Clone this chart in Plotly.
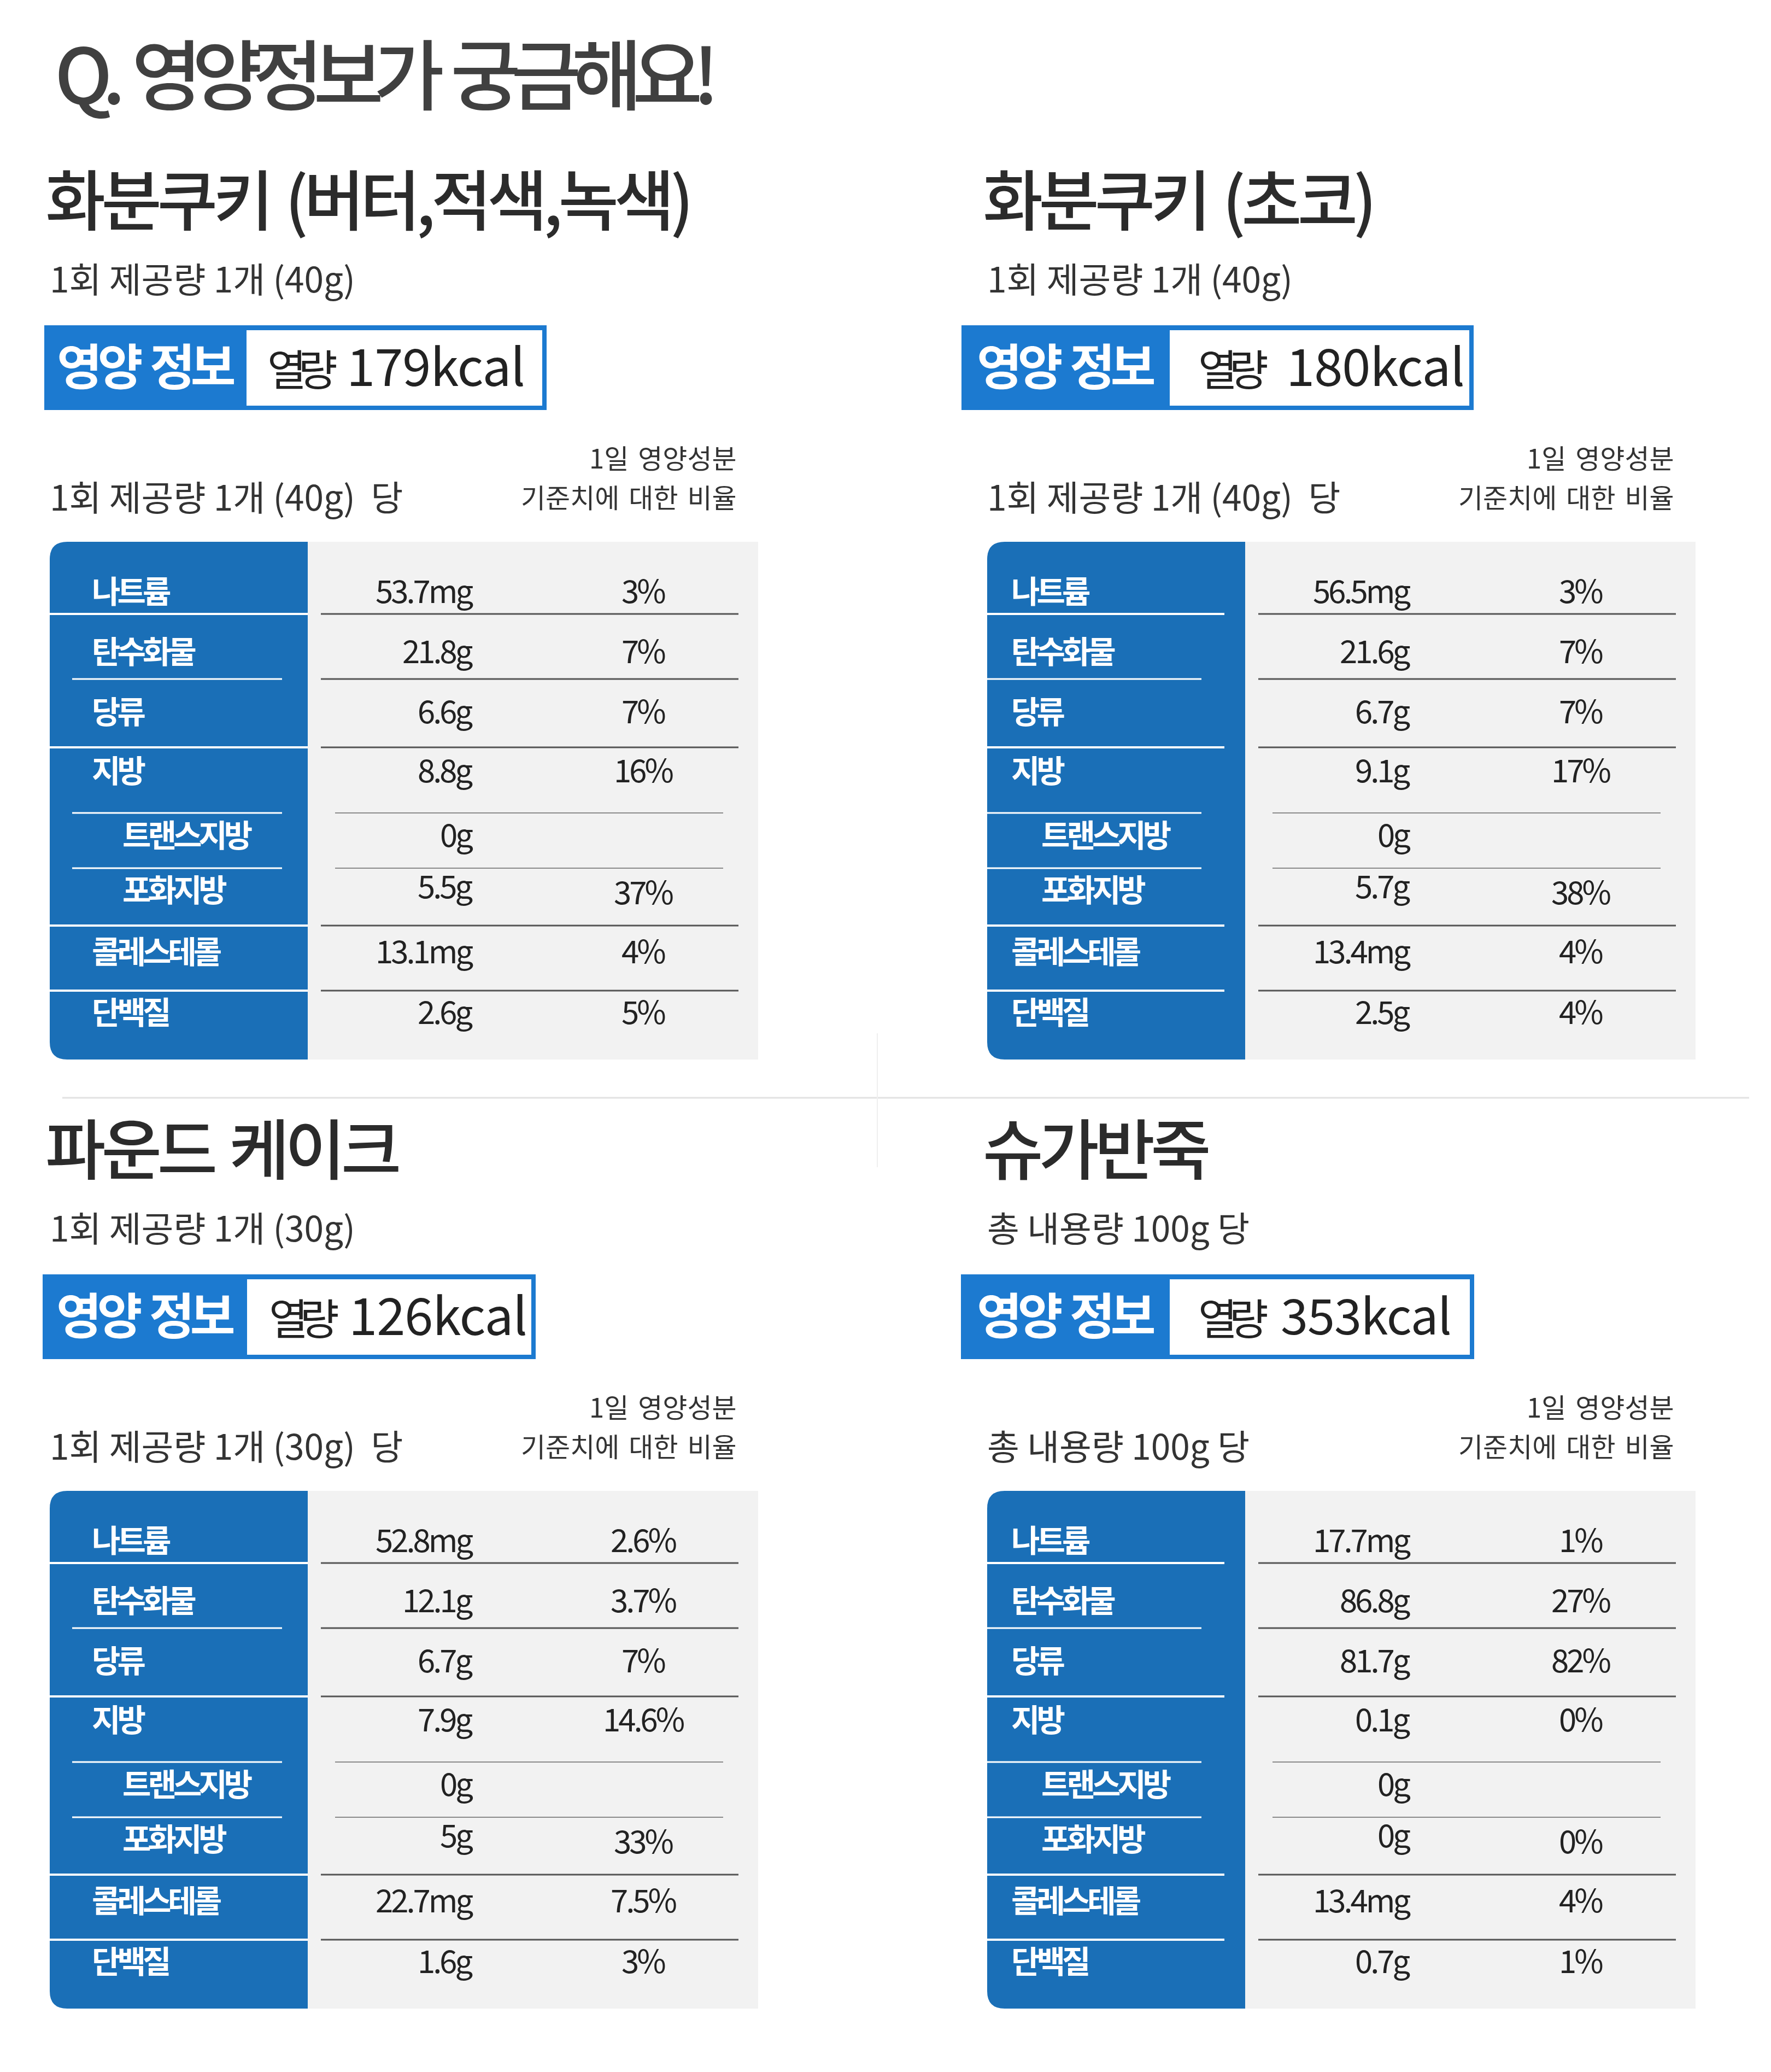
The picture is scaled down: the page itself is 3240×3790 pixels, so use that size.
import plotly.graph_objects as go

W, H = 3240, 3790
FONT = "Noto Sans CJK KR"

# ---- data -------------------------------------------------------------
page_title = "Q. 영양정보가 궁금해요!"
products = ["화분쿠키 (버터,적색,녹색)", "화분쿠키 (초코)", "파운드 케이크", "슈가반죽"]
servings = ["1회 제공량 1개 (40g)", "1회 제공량 1개 (40g)", "1회 제공량 1개 (30g)", "총 내용량 100g 당"]
bases = ["1회 제공량 1개 (40g)\u00a0\u00a0당", "1회 제공량 1개 (40g)\u00a0\u00a0당",
         "1회 제공량 1개 (30g)\u00a0\u00a0당", "총 내용량 100g 당"]
kcal = [179, 180, 126, 353]
dv_header = ["1일 영양성분", "기준치에 대한 비율"]
nutrients = ["나트륨", "탄수화물", "당류", "지방", "트랜스지방", "포화지방", "콜레스테롤", "단백질"]
sub_items = ["트랜스지방", "포화지방"]

amounts = [
    ["53.7mg", "21.8g", "6.6g", "8.8g", "0g", "5.5g", "13.1mg", "2.6g"],
    ["56.5mg", "21.6g", "6.7g", "9.1g", "0g", "5.7g", "13.4mg", "2.5g"],
    ["52.8mg", "12.1g", "6.7g", "7.9g", "0g", "5g", "22.7mg", "1.6g"],
    ["17.7mg", "86.8g", "81.7g", "0.1g", "0g", "0g", "13.4mg", "0.7g"],
]
percents = [
    ["3%", "7%", "7%", "16%", "", "37%", "4%", "5%"],
    ["3%", "7%", "7%", "17%", "", "38%", "4%", "4%"],
    ["2.6%", "3.7%", "7%", "14.6%", "", "33%", "7.5%", "3%"],
    ["1%", "27%", "82%", "0%", "", "0%", "4%", "1%"],
]

# ---- layout constants (pixels) ---------------------------------------
BOX_BLUE = "#1c7ad0"
TAB_BLUE = "#1a6fb7"
GRAY = "#f2f2f2"
DARK = "#2b2b2b"
PAGE_OFF = 8  # body margin of the page

panel_x = [0, 1715, 0, 1715]
panel_y = [0, 0, 1736, 1736]
# box: left, split, right (relative to panel), kcal text start offsets
box_x = [(81, 451, 1000), (44, 425, 981), (78, 452, 980), (43, 425, 982)]
kcal_label_dx = [36, 50, 38, 50]
kcal_num_x = [632, 636, 636, 626]
kcal_size = [94, 94, 94, 90]
# table
TAB_L, TAB_T, TAB_H, BLUE_W, TAB_W = 91, 991, 947, 472, 1296
row_y = [96, 206, 316, 424, 542, 642, 755, 866]
amt_dy = [0, 0, 0, 0, 0, -6, 0, 0]
pct_dy = [0, 0, 0, 0, 0, 5, 0, 0]
sep_y = [132, 251, 376, 496, 597, 702, 821]
sep_full = [True, False, True, False, False, True, True]
label_x = {0: (75, 131), 1: (42, 97)}
blue_sep = {0: ((0, 472), (41, 425)), 1: ((0, 434), (0, 392))}

annotations = []
shapes = []


def text(x, y, s, size, color=DARK, xa="left", weight="normal", spacing=0, words=0):
    style = []
    if spacing:
        style.append(f"letter-spacing:{spacing}px")
    if words:
        style.append(f"word-spacing:{words}px")
    if style:
        s = f'<span style="{";".join(style)}">{s}</span>'
    # glyph centre of CJK text sits above the text box centre
    annotations.append(dict(x=x, y=y - 0.15 * size, xref="x", yref="y", text=s,
                            showarrow=False, xanchor=xa, yanchor="middle",
                            font=dict(family=FONT, size=size, color=color, weight=weight)))


def rect(x0, y0, x1, y1, color):
    shapes.append(dict(type="rect", xref="x", yref="y", x0=x0, y0=y0, x1=x1, y1=y1,
                       fillcolor=color, line=dict(width=0), layer="below"))


def line(x0, y0, x1, y1, color, w):
    shapes.append(dict(type="line", xref="x", yref="y", x0=x0, y0=y0, x1=x1, y1=y1,
                       line=dict(color=color, width=w), layer="above"))


# page title
text(98, 150, page_title, 140, "#404040", weight=500, spacing=-18, words=16)

# faint dividers
line(114, 2008, 3200, 2008, "#e2e2e2", 3)
line(1605, 1890, 1605, 2135, "#efefef", 2)

for p in range(4):
    ox, oy = panel_x[p], panel_y[p]
    col = p % 2

    text(ox + 81, oy + 378, products[p], 120, DARK, weight=500, spacing=-8, words=10)
    text(ox + 89, oy + 517, servings[p], 64, "#333333")

    # energy box
    bx0, bxs, bx1 = box_x[p]
    rect(ox + bx0, oy + 595, ox + bx1, oy + 750, BOX_BLUE)
    rect(ox + bxs, oy + 604, ox + bx1 - 8, oy + 742, "white")
    text(ox + (bx0 + bxs) / 2, oy + 678, "영양 정보", 90, "white", xa="center",
         weight="bold", spacing=-8, words=8)
    text(ox + bxs + kcal_label_dx[p], oy + 684, "열량", 78, "#222222", spacing=-15)
    text(ox + kcal_num_x[p], oy + 679, f"{kcal[p]}kcal", kcal_size[p], "#222222", spacing=-1)

    # table header
    text(ox + 89, oy + 916, bases[p], 64, "#333333")
    text(ox + 1350, oy + 843, dv_header[0], 49, "#333333", xa="right", spacing=0, words=6)
    text(ox + 1350, oy + 915, dv_header[1], 49, "#333333", xa="right", spacing=0, words=6)

    # table body
    tl, tt = ox + TAB_L, oy + TAB_T
    tb = tt + TAB_H
    rect(tl + BLUE_W, tt, tl + TAB_W, tb, GRAY)
    r = 32
    bx = tl + BLUE_W
    shapes.append(dict(
        type="path", xref="x", yref="y", fillcolor=TAB_BLUE, line=dict(width=0), layer="below",
        path=(f"M {tl + r},{tt} L {bx},{tt} L {bx},{tb} L {tl + r},{tb} "
              f"Q {tl},{tb} {tl},{tb - r} L {tl},{tt + r} Q {tl},{tt} {tl + r},{tt} Z")))

    full_rng, short_rng = blue_sep[col]
    for i, sy in enumerate(sep_y):
        y = tt + sy
        a, b = full_rng if sep_full[i] else short_rng
        line(tl + a, y, tl + b, y, "white", 4 if sep_full[i] else 3)
        if i in (3, 4):
            line(tl + 522, y, tl + 1232, y, "#8a8a8a", 2)
        else:
            line(tl + 496, y, tl + 1260, y, "#555555", 3)

    lx_main, lx_sub = label_x[col]
    for i, name in enumerate(nutrients):
        y = tt + row_y[i]
        lx = lx_sub if name in sub_items else lx_main
        text(tl + lx, y, name, 57, "white", weight="bold", spacing=-6)
        text(tl + 776, y + amt_dy[i], amounts[p][i], 58, "#222222", xa="right", spacing=-4)
        if percents[p][i]:
            text(tl + 1086, y + pct_dy[i], percents[p][i], 58, "#222222", xa="center", spacing=-4)

fig = go.Figure()
fig.update_layout(
    width=W, height=H,
    margin=dict(l=0, r=0, t=0, b=0),
    paper_bgcolor="white", plot_bgcolor="white",
    xaxis=dict(range=[PAGE_OFF, W + PAGE_OFF], visible=False, fixedrange=True),
    yaxis=dict(range=[H + PAGE_OFF, PAGE_OFF], visible=False, fixedrange=True),
    shapes=shapes, annotations=annotations,
    showlegend=False,
)
fig.write_html("out.html")
